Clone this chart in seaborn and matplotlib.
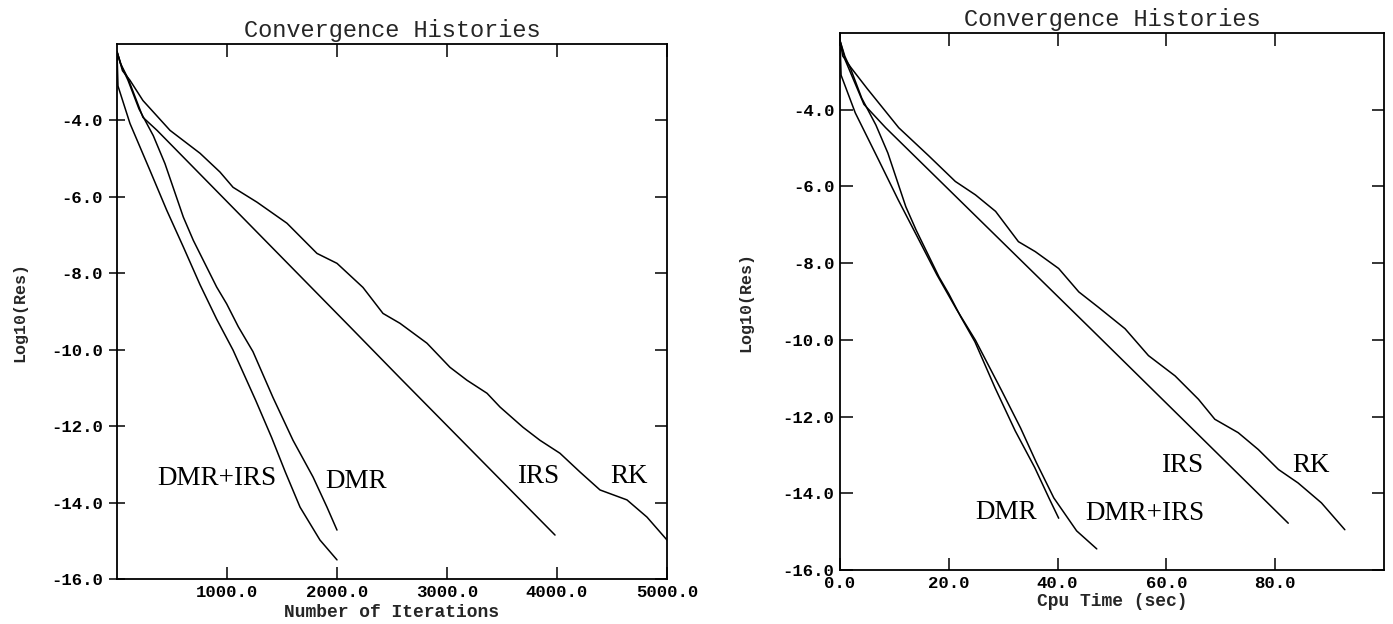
import matplotlib
matplotlib.use("Agg")
import matplotlib.pyplot as plt
import matplotlib.lines as mlines
import seaborn as sns
import pandas as pd

# ---------------- data: left panel (iterations) ----------------
rk_iter_x = [0, 50, 118, 236, 482, 755, 936, 1055, 1273, 1545, 1818, 2000, 2236, 2418, 2573,
             2818, 3027, 3182, 3364, 3482, 3691, 3845, 4027, 4209, 4391, 4636, 4818, 5000]
rk_iter_y = [-2.2, -2.7, -2.95, -3.48, -4.26, -4.86, -5.35, -5.75, -6.14, -6.69, -7.48, -7.74, -8.37,
             -9.05, -9.31, -9.83, -10.46, -10.80, -11.14, -11.50, -12.03, -12.37, -12.71, -13.20,
             -13.67, -13.93, -14.38, -14.98]
irs_iter_x = [0, 30, 100, 236, 364, 2118, 2573, 3982]
irs_iter_y = [-2.2, -2.5, -2.9, -3.92, -4.26, -9.40, -10.74, -14.85]
dmr_iter_x = [0, 45, 100, 200, 330, 436, 603, 694, 906, 997, 1103, 1236, 1418, 1600, 1782, 1909, 2000]
dmr_iter_y = [-2.2, -2.61, -2.95, -3.70, -4.40, -5.13, -6.53, -7.14, -8.36, -8.80, -9.40, -10.05,
              -11.25, -12.37, -13.33, -14.12, -14.72]
dmrirs_iter_x = [0, 9, 118, 300, 452, 603, 755, 906, 1055, 1260, 1406, 1530, 1664, 1845, 2000]
dmrirs_iter_y = [-2.2, -3.1, -4.08, -5.31, -6.35, -7.31, -8.30, -9.20, -10.01, -11.32, -12.30,
                 -13.20, -14.12, -14.98, -15.50]

# ---------------- data: right panel (cpu time) ----------------
rk_cpu_x = [0, 0.5, 2.0, 5.0, 10.8, 16.3, 21.2, 24.9, 28.6, 32.8, 35.9, 40.2, 43.9, 47.5, 52.4,
            56.7, 61.6, 65.9, 68.9, 73.2, 76.9, 80.6, 84.2, 88.5, 92.8]
rk_cpu_y = [-2.2, -2.6, -2.9, -3.45, -4.47, -5.20, -5.87, -6.22, -6.65, -7.44, -7.70, -8.14, -8.75,
            -9.15, -9.71, -10.41, -10.94, -11.55, -12.07, -12.42, -12.86, -13.38, -13.73, -14.25, -14.95]
irs_cpu_x = [0, 1.0, 4.4, 8.4, 46.3, 82.4]
irs_cpu_y = [-2.2, -2.72, -3.86, -4.47, -9.74, -14.78]
dmr_cpu_x = [0, 0.9, 2.0, 4.0, 6.6, 8.8, 12.1, 14.0, 18.2, 20.0, 22.2, 24.8, 28.5, 32.2, 35.8, 38.4, 40.2]
dmr_cpu_y = [-2.2, -2.61, -2.95, -3.70, -4.40, -5.13, -6.53, -7.14, -8.36, -8.80, -9.40, -10.05,
             -11.25, -12.37, -13.33, -14.12, -14.65]
dmrirs_cpu_x = [0, 0.2, 2.8, 7.1, 10.7, 14.2, 17.8, 21.4, 24.9, 29.7, 33.2, 36.1, 39.3, 43.5, 47.2]
dmrirs_cpu_y = [-2.2, -3.1, -4.08, -5.31, -6.35, -7.31, -8.30, -9.20, -10.01, -11.32, -12.30,
                -13.20, -14.12, -14.98, -15.45]

# ---------------- labels / ticks ----------------
title_text = "Convergence Histories"
ylabel_text = "Log10(Res)"
xlabel_left = "Number of Iterations"
xlabel_right = "Cpu Time (sec)"
yticks = [-4, -6, -8, -10, -12, -14, -16]
xticks_left = [1000, 2000, 3000, 4000, 5000]
xticks_right = [0, 20, 40, 60, 80]
labels_left = [("DMR+IRS", 909, -13.36), ("DMR", 2173, -13.44), ("IRS", 3827, -13.33), ("RK", 4655, -13.33)]
labels_right = [("DMR", 30.5, -14.51), ("DMR+IRS", 56.1, -14.53), ("IRS", 62.9, -13.28), ("RK", 86.6, -13.28)]

sns.set_style("ticks")
plt.rcParams["font.family"] = ["Liberation Mono", "DejaVu Sans Mono"]
plt.rcParams["axes.linewidth"] = 1.3

fig = plt.figure(figsize=(13.93, 6.24), dpi=100)
ax1 = fig.add_axes([117 / 1393, 1 - 579 / 624, 550 / 1393, 535 / 624])
ax2 = fig.add_axes([840 / 1393, 1 - 570 / 624, 544 / 1393, 537 / 624])


def long_frame(series):
    rows = []
    for name, xs, ys in series:
        for x, y in zip(xs, ys):
            rows.append({"method": name, "x": x, "y": y})
    return pd.DataFrame(rows)


df_left = long_frame([("RK", rk_iter_x, rk_iter_y), ("IRS", irs_iter_x, irs_iter_y),
                      ("DMR", dmr_iter_x, dmr_iter_y), ("DMR+IRS", dmrirs_iter_x, dmrirs_iter_y)])
df_right = long_frame([("RK", rk_cpu_x, rk_cpu_y), ("IRS", irs_cpu_x, irs_cpu_y),
                       ("DMR", dmr_cpu_x, dmr_cpu_y), ("DMR+IRS", dmrirs_cpu_x, dmrirs_cpu_y)])

pal = {"RK": "black", "IRS": "black", "DMR": "black", "DMR+IRS": "black"}
for ax, df in ((ax1, df_left), (ax2, df_right)):
    sns.lineplot(data=df, x="x", y="y", hue="method", units="method", estimator=None,
                 palette=pal, linewidth=1.1, legend=False, ax=ax, sort=True)

ax1.set_xlim(0, 5000)
ax2.set_xlim(0, 100)
for ax in (ax1, ax2):
    ax.set_ylim(-16, -2)
    ax.set_yticks(yticks)
    ax.set_yticklabels([f"{v:.1f}" for v in yticks])
    for s in ax.spines.values():
        s.set_visible(True)
        s.set_color("black")
    ax.set_title(title_text, fontsize=17, pad=5, family=["Liberation Mono"])
    ax.set_ylabel(ylabel_text, fontsize=12, fontweight="bold")

ax1.set_xticks(xticks_left)
ax1.set_xticklabels([f"{v:.1f}" for v in xticks_left])
ax2.set_xticks(xticks_right)
ax2.set_xticklabels([f"{v:.1f}" for v in xticks_right])
ax1.set_xlabel(xlabel_left, fontsize=13, fontweight="bold")
ax2.set_xlabel(xlabel_right, fontsize=13, fontweight="bold")

for ax in (ax1, ax2):
    ax.tick_params(axis="both", which="major", direction="in", length=9, width=1.1,
                   top=True, right=True, labelsize=12.5, pad=4, colors="black")
    for lab in ax.get_xticklabels() + ax.get_yticklabels():
        lab.set_fontweight("bold")

# left panel: left ticks cross the spine
ax1.tick_params(axis="y", direction="inout", length=12)
for t in ax1.yaxis.get_major_ticks():
    t.tick2line.set_marker(mlines.TICKLEFT)
    t.tick2line.set_markersize(9)

ax1.yaxis.set_label_coords(-0.164, 0.5)
ax2.yaxis.set_label_coords(-0.16, 0.5)
ax1.xaxis.set_label_coords(0.5, -0.047)
ax2.xaxis.set_label_coords(0.5, -0.043)

for ax, labs in ((ax1, labels_left), (ax2, labels_right)):
    for txt, x, y in labs:
        ax.text(x, y, txt, ha="center", va="center", fontsize=19.5,
                family=["Liberation Serif"], color="black")

fig.savefig("out.png", dpi=100, facecolor="white")
